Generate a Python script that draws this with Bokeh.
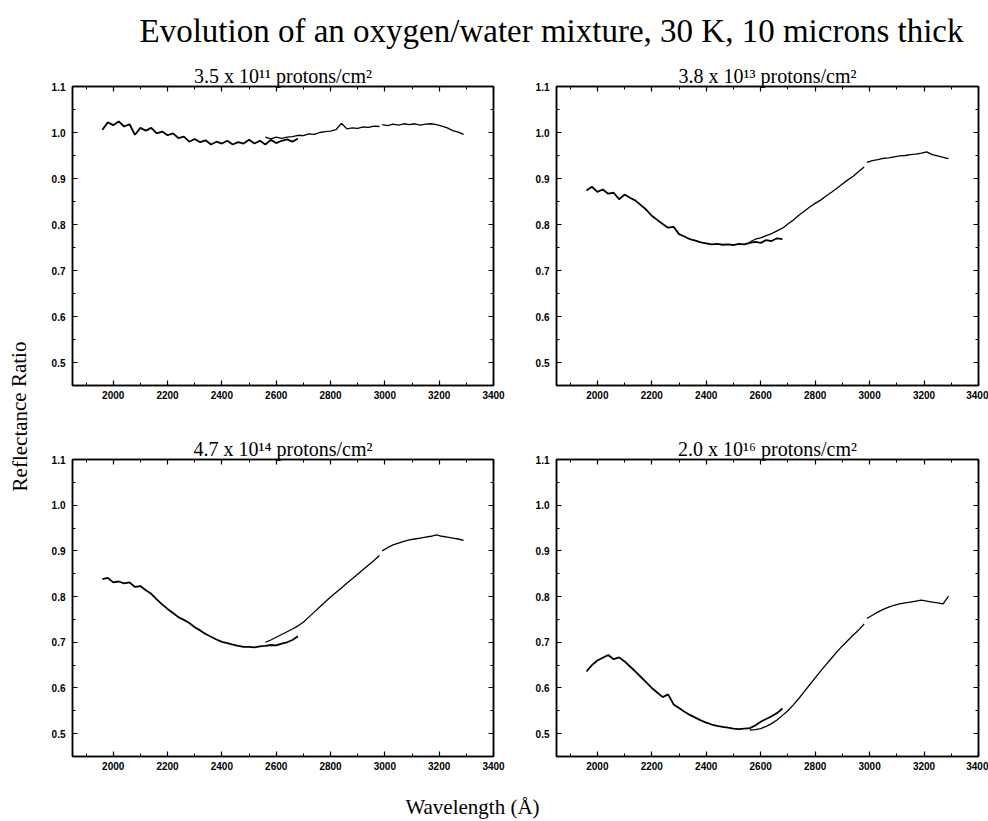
from bokeh.plotting import figure
from bokeh.layouts import column, row
from bokeh.models import Range1d, LinearAxis, FixedTicker, PrintfTickFormatter, CustomJSTickFormatter, Label
from bokeh.embed import file_html
from bokeh.resources import INLINE

# ---------------- data ----------------
main_title = "Evolution of an oxygen/water mixture, 30 K, 10 microns thick"
x_label = "Wavelength (Å)"
y_label = "Reflectance Ratio"
panel_titles = ["3.5 x 10¹¹ protons/cm²", "3.8 x 10¹³ protons/cm²",
                "4.7 x 10¹⁴ protons/cm²", "2.0 x 10¹⁶ protons/cm²"]

x_ticks = [2000, 2200, 2400, 2600, 2800, 3000, 3200, 3400]
x_minor = [1900, 2100, 2300, 2500, 2700, 2900, 3100, 3300]
y_ticks = [0.5, 0.6, 0.7, 0.8, 0.9, 1.0, 1.1]
y_minor = [0.55, 0.65, 0.75, 0.85, 0.95, 1.05]

# wavelength grids of the three scan segments (Å)
xa = [1960, 1980, 2000, 2020, 2040, 2060, 2080, 2100, 2120, 2140, 2160, 2180, 2200,
      2220, 2240, 2260, 2280, 2300, 2320, 2340, 2360, 2380, 2400, 2420, 2440, 2460,
      2480, 2500, 2520, 2540, 2560, 2580, 2600, 2620, 2640, 2660, 2680]
xb = [2560, 2580, 2600, 2620, 2640, 2660, 2680, 2700, 2720, 2740, 2760, 2780, 2800,
      2820, 2840, 2860, 2880, 2900, 2920, 2940, 2960, 2980]
xc = [2990, 3010, 3030, 3050, 3070, 3090, 3110, 3130, 3150, 3170, 3190, 3210, 3230,
      3250, 3270, 3290]

# 3.5e11 protons/cm2
p1_a = [1.006, 1.022, 1.016, 1.024, 1.013, 1.018, 0.995, 1.010, 1.004, 1.010, 0.998, 1.002, 0.994,
        0.998, 0.988, 0.991, 0.980, 0.986, 0.979, 0.983, 0.974, 0.980, 0.976, 0.982, 0.974, 0.979,
        0.976, 0.984, 0.976, 0.982, 0.974, 0.984, 0.977, 0.982, 0.985, 0.980, 0.987]
p1_b = [0.990, 0.986, 0.990, 0.987, 0.990, 0.991, 0.994, 0.993, 0.997, 0.996, 1.000, 1.002, 1.003,
        1.006, 1.020, 1.008, 1.010, 1.009, 1.012, 1.011, 1.014, 1.013]
p1_c = [1.017, 1.015, 1.018, 1.016, 1.019, 1.017, 1.019, 1.016, 1.018, 1.019, 1.017, 1.014, 1.010,
        1.004, 1.001, 0.996]

# 3.8e13 protons/cm2
p2_a = [0.874, 0.882, 0.871, 0.876, 0.867, 0.869, 0.855, 0.865, 0.858, 0.852, 0.842, 0.832, 0.819,
        0.810, 0.801, 0.793, 0.795, 0.779, 0.774, 0.768, 0.765, 0.761, 0.759, 0.757, 0.758, 0.756,
        0.757, 0.755, 0.758, 0.757, 0.760, 0.762, 0.760, 0.766, 0.764, 0.770, 0.768]
p2_b = [0.762, 0.768, 0.771, 0.776, 0.780, 0.786, 0.792, 0.801, 0.810, 0.820, 0.829, 0.838, 0.846,
        0.853, 0.862, 0.870, 0.879, 0.888, 0.897, 0.905, 0.915, 0.925]
p2_c = [0.935, 0.939, 0.941, 0.944, 0.945, 0.947, 0.949, 0.950, 0.952, 0.953, 0.955, 0.958, 0.952,
        0.949, 0.946, 0.943]

# 4.7e14 protons/cm2
p3_a = [0.838, 0.841, 0.831, 0.833, 0.829, 0.831, 0.821, 0.823, 0.814, 0.806, 0.794, 0.783, 0.773,
        0.764, 0.755, 0.749, 0.742, 0.733, 0.726, 0.718, 0.712, 0.706, 0.701, 0.698, 0.695, 0.692,
        0.690, 0.690, 0.689, 0.691, 0.692, 0.694, 0.693, 0.697, 0.700, 0.705, 0.713]
p3_b = [0.700, 0.705, 0.711, 0.717, 0.723, 0.729, 0.736, 0.744, 0.755, 0.766, 0.777, 0.788, 0.799,
        0.809, 0.819, 0.829, 0.839, 0.849, 0.859, 0.869, 0.879, 0.890]
p3_c = [0.900, 0.907, 0.913, 0.917, 0.921, 0.924, 0.926, 0.928, 0.930, 0.932, 0.935, 0.932, 0.930,
        0.928, 0.926, 0.923]

# 2.0e16 protons/cm2
p4_a = [0.636, 0.650, 0.660, 0.666, 0.672, 0.663, 0.667, 0.658, 0.647, 0.636, 0.624, 0.612, 0.600,
        0.590, 0.580, 0.586, 0.564, 0.556, 0.548, 0.541, 0.535, 0.529, 0.524, 0.520, 0.517, 0.515,
        0.513, 0.511, 0.510, 0.511, 0.512, 0.518, 0.526, 0.532, 0.538, 0.545, 0.555]
p4_b = [0.508, 0.509, 0.511, 0.516, 0.522, 0.530, 0.540, 0.550, 0.563, 0.577, 0.592, 0.607, 0.622,
        0.637, 0.651, 0.665, 0.679, 0.692, 0.704, 0.716, 0.727, 0.740]
p4_c = [0.752, 0.759, 0.766, 0.772, 0.777, 0.781, 0.784, 0.786, 0.788, 0.790, 0.792, 0.790, 0.788,
        0.786, 0.784, 0.801]

series = [(p1_a, p1_b, p1_c), (p2_a, p2_b, p2_c), (p3_a, p3_b, p3_c), (p4_a, p4_b, p4_c)]

SERIF = "Liberation Serif"
SANS = "Liberation Sans"


def style_axis(ax, labels):
    ax.axis_line_color = "black"
    ax.axis_line_width = 1.5
    ax.major_tick_in = 5
    ax.major_tick_out = 0
    ax.minor_tick_in = 3
    ax.minor_tick_out = 0
    ax.major_tick_line_color = "black"
    ax.minor_tick_line_color = "black"
    ax.major_tick_line_width = 1.2
    ax.axis_label = None
    if labels:
        ax.major_label_text_font = SANS
        ax.major_label_text_font_style = "bold"
        ax.major_label_text_font_size = "10px"
        ax.major_label_text_color = "black"
    else:
        ax.formatter = CustomJSTickFormatter(code="return ''")
        ax.major_label_text_font_size = "1px"
        ax.major_label_standoff = 0


def panel(idx, w, h, bl, br, bt, bb):
    p = figure(width=w, height=h, x_range=Range1d(1850, 3400), y_range=Range1d(0.45, 1.1),
               output_backend="svg", toolbar_location=None,
               min_border_left=bl, min_border_right=br, min_border_top=bt, min_border_bottom=bb)
    p.background_fill_color = "white"
    p.border_fill_color = "white"
    p.outline_line_color = "black"
    p.outline_line_width = 1.5
    p.xgrid.visible = False
    p.ygrid.visible = False
    p.xaxis.ticker = FixedTicker(ticks=x_ticks, minor_ticks=x_minor)
    p.yaxis.ticker = FixedTicker(ticks=y_ticks, minor_ticks=y_minor)
    p.yaxis.formatter = PrintfTickFormatter(format="%.1f")
    style_axis(p.xaxis[0], True)
    style_axis(p.yaxis[0], True)
    p.xaxis.major_label_standoff = 5
    p.yaxis.major_label_standoff = 7
    top = LinearAxis(ticker=FixedTicker(ticks=x_ticks, minor_ticks=x_minor))
    right = LinearAxis(ticker=FixedTicker(ticks=y_ticks, minor_ticks=y_minor))
    style_axis(top, False)
    style_axis(right, False)
    p.add_layout(top, "above")
    p.add_layout(right, "right")
    p.title.text = panel_titles[idx]
    p.title.align = "center"
    p.title.text_font = SERIF
    p.title.text_font_style = "normal"
    p.title.text_font_size = "20px"
    p.title.text_color = "black"
    p.title.standoff = 0
    ya, yb, yc = series[idx]
    p.line(xa, ya, line_color="black", line_width=1.8)
    p.line(xb, yb, line_color="black", line_width=1.3)
    p.line(xc, yc, line_color="black", line_width=1.3)
    return p


def text_fig(w, h):
    f = figure(width=w, height=h, x_range=Range1d(0, w), y_range=Range1d(0, h),
               output_backend="svg", toolbar_location=None, min_border=0,
               x_axis_location=None, y_axis_location=None)
    f.outline_line_color = None
    f.xgrid.visible = False
    f.ygrid.visible = False
    f.border_fill_color = "white"
    return f


# title strip
tfig = text_fig(988, 58)
tfig.add_layout(Label(x=551, y=28, text=main_title, text_align="center", text_baseline="alphabetic",
                      text_font=SERIF, text_font_size="33px", text_color="black"))

# y-label strip
yfig = text_fig(40, 720)
yfig.add_layout(Label(x=19, y=362, text=y_label, angle=1.5708, text_align="center",
                      text_baseline="middle", text_font=SERIF, text_font_size="21px",
                      text_color="black"))

# x-label strip
xfig = text_fig(988, 43)
xfig.add_layout(Label(x=472, y=15, text=x_label, text_align="center", text_baseline="middle",
                      text_font=SERIF, text_font_size="21px", text_color="black"))

p1 = panel(0, 474, 372, 32, 21, 28, 45)
p2 = panel(1, 474, 372, 42, 10, 28, 45)
p3 = panel(2, 474, 348, 32, 21, 29, 22)
p4 = panel(3, 474, 348, 42, 10, 29, 22)

grid = column(row(p1, p2), row(p3, p4))
layout = column(tfig, row(yfig, grid), xfig)

open("out.html", "w").write(file_html(layout, INLINE))
